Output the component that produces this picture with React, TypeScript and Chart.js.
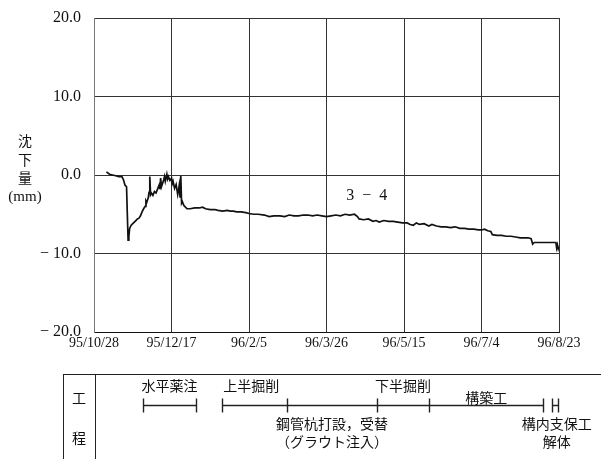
import React, { useEffect, useRef } from "react";
import { Chart, registerables } from "chart.js";

Chart.register(...registerables);

// days since 95/10/28
const days = [
  8, 10, 12, 14, 16, 18, 19, 20, 21, 21.5, 22, 22.5, 23, 24, 25, 26, 27, 28, 29, 30,
  31, 32, 33, 33.5, 34, 35, 35.5, 36, 36.5, 37, 38, 39, 40, 41, 42, 42.5, 43, 43.5, 44, 45,
  45.5, 46, 47, 47.5, 48, 49, 50, 50.5, 51, 52, 53, 54, 54.5, 55, 55.5, 56, 56.5, 57, 58, 59,
  60, 62, 65, 68, 70, 72, 75, 78, 80, 83, 86, 88, 90, 92, 95, 98, 100, 103, 106, 110,
  113, 116, 120, 123, 126, 129, 132, 135, 138, 141, 144, 147, 150, 153, 156, 159, 162, 165, 168, 170,
  171, 174, 177, 180, 182, 184, 187, 190, 193, 196, 199, 202, 204, 206, 208, 210, 213, 216, 218, 221,
  224, 227, 230, 233, 236, 239, 242, 245, 248, 250, 252, 254, 256, 257, 260, 263, 266, 269, 272, 275,
  280, 282, 283, 284, 290, 295, 298, 298.5, 299, 299.5, 300,
];
const settlement = [
  0.4, 0.1, 0.0, -0.1, -0.2, -0.2, -0.6, -1.3, -1.5, -5.0, -8.3, -7.8, -6.8, -6.4, -6.2, -6.0, -5.8, -5.6, -5.5, -5.2,
  -4.7, -4.3, -4.0, -3.3, -3.5, -2.9, -2.2, -0.2, -2.5, -2.3, -2.6, -2.1, -2.3, -1.8, -1.3, -1.8, -0.4, -1.5, -1.2, -0.6,
  -0.2, -0.8, 0.1, -0.5, -0.2, -0.7, -0.4, -1.1, -0.8, -1.7, -1.2, -2.5, -2.0, -1.3, -2.8, -0.1, -3.6, -3.4, -3.9, -4.1,
  -4.3, -4.3, -4.2, -4.2, -4.1, -4.3, -4.4, -4.4, -4.5, -4.6, -4.5, -4.6, -4.6, -4.7, -4.7, -4.8, -4.9, -5.0, -5.0, -5.1,
  -5.3, -5.2, -5.2, -5.3, -5.1, -5.2, -5.2, -5.1, -5.1, -5.2, -5.1, -5.2, -5.3, -5.2, -5.1, -5.2, -5.0, -5.1, -5.0, -5.3,
  -5.6, -5.7, -5.6, -5.9, -5.8, -6.0, -5.8, -5.9, -5.9, -6.0, -6.1, -6.1, -6.3, -6.4, -6.1, -6.3, -6.2, -6.5, -6.3, -6.5,
  -6.6, -6.6, -6.7, -6.6, -6.8, -6.8, -6.9, -6.9, -7.0, -7.0, -6.9, -7.1, -7.2, -7.6, -7.7, -7.7, -7.8, -7.8, -7.9, -8.0,
  -8.0, -8.1, -8.8, -8.6, -8.6, -8.6, -8.6, -9.3, -8.9, -9.4, -9.1,
];

const xTickDays = [0, 50, 100, 150, 200, 250, 300];
const xTickLabels = ["95/10/28", "95/12/17", "96/2/5", "96/3/26", "96/5/15", "96/7/4", "96/8/23"];
const yTickValues = [-20, -10, 0, 10, 20];
const yTitleLines = ["沈", "下", "量", "(mm)"];
const seriesLabel = "3 − 4";
const seriesLabelPos = { x: 176, y: -2.6 };

// process schedule (days since 95/10/28)
const procSegments = [
  { start: 31.6, end: 65.8 },
  { start: 82.6, end: 289.7 },
  { start: 295.5, end: 299.5 },
];
const procTicks = [31.6, 65.8, 82.6, 124.5, 182.6, 216, 289.7, 295.5, 299.5];
const procLabelsTop = [
  { text: "水平薬注", day: 48.7, row: 0 },
  { text: "上半掘削", day: 101.5, row: 0 },
  { text: "下半掘削", day: 199.3, row: 0 },
  { text: "構築工", day: 253, row: 1 },
];
const procLabelsBottom = [
  { text: "鋼管杭打設，受替", day: 153.5, row: 0 },
  { text: "（グラウト注入）", day: 153.5, row: 1 },
  { text: "構内支保工", day: 298.5, row: 0 },
  { text: "解体", day: 298.5, row: 1 },
];
const tableHead = ["工", "程"];

const SERIF = '"Liberation Serif", "DejaVu Serif", serif';
const CJK = '"Noto Sans CJK JP", "Noto Sans CJK SC", sans-serif';

export default function App() {
  const ref = useRef<HTMLCanvasElement>(null);
  useEffect(() => {
    const canvas = ref.current!;
    const overlay = {
      id: "overlay",
      afterDraw(chart: any) {
        const ctx = chart.ctx as CanvasRenderingContext2D;
        const xs = chart.scales.x;
        const ys = chart.scales.y;
        ctx.save();
        ctx.fillStyle = "#111";
        ctx.textAlign = "center";
        ctx.textBaseline = "middle";
        // y title
        const yT = [141, 160, 178, 197];
        yTitleLines.forEach((t, i) => {
          ctx.font = i === 3 ? `15px ${SERIF}` : `14px ${CJK}`;
          ctx.fillText(t, 25, yT[i]);
        });
        // series label
        ctx.font = `16px ${SERIF}`;
        (ctx as any).letterSpacing = "2px";
        ctx.fillText(seriesLabel, xs.getPixelForValue(seriesLabelPos.x) + 1, ys.getPixelForValue(seriesLabelPos.y));
        (ctx as any).letterSpacing = "0px";

        // process table
        const top = 374;
        ctx.strokeStyle = "#222";
        ctx.lineWidth = 1;
        ctx.beginPath();
        ctx.moveTo(63, top + 0.5);
        ctx.lineTo(601, top + 0.5);
        ctx.moveTo(63.5, top);
        ctx.lineTo(63.5, 459);
        ctx.moveTo(95.5, top);
        ctx.lineTo(95.5, 459);
        ctx.stroke();
        ctx.font = `14px ${CJK}`;
        ctx.fillText(tableHead[0], 79, 398);
        ctx.fillText(tableHead[1], 79, 438);

        const barY = 405.5;
        ctx.lineWidth = 1.4;
        ctx.beginPath();
        procSegments.forEach((s) => {
          ctx.moveTo(xs.getPixelForValue(s.start), barY);
          ctx.lineTo(xs.getPixelForValue(s.end), barY);
        });
        procTicks.forEach((d) => {
          const px = Math.round(xs.getPixelForValue(d)) + 0.5;
          ctx.moveTo(px, barY - 7);
          ctx.lineTo(px, barY + 7);
        });
        ctx.stroke();

        ctx.font = `14px ${CJK}`;
        const topRows = [386, 398];
        procLabelsTop.forEach((l) => {
          ctx.fillText(l.text, xs.getPixelForValue(l.day), topRows[l.row]);
        });
        const botRows = [424, 442];
        procLabelsBottom.forEach((l) => {
          ctx.fillText(l.text, xs.getPixelForValue(l.day), botRows[l.row]);
        });
        ctx.restore();
      },
    };
    const chart = new Chart(canvas, {
      type: "line",
      data: {
        datasets: [
          {
            data: days.map((d, i) => ({ x: d, y: settlement[i] })),
            borderColor: "#111",
            borderWidth: 1.7,
            pointRadius: 0,
            tension: 0,
            fill: false,
          },
        ],
      },
      options: {
        animation: false,
        responsive: false,
        maintainAspectRatio: false,
        layout: { padding: { left: 0, right: 42, top: 18, bottom: 0 } },
        plugins: { legend: { display: false }, tooltip: { enabled: false } },
        scales: {
          x: {
            type: "linear",
            min: 0,
            max: 300,
            afterBuildTicks: (s: any) => {
              s.ticks = xTickDays.map((v) => ({ value: v }));
            },
            ticks: {
              callback: (v: any) => xTickLabels[xTickDays.indexOf(Number(v))] ?? "",
              font: { family: SERIF, size: 14 },
              color: "#111",
              padding: 3,
              maxRotation: 0,
              autoSkip: false,
            },
            grid: { color: "#333", drawTicks: false, lineWidth: 1 },
            border: { color: "#111", width: 1 },
            afterFit: (s: any) => {
              s.height = 127;
              s.paddingLeft = 0;
              s.paddingRight = 0;
            },
          },
          y: {
            type: "linear",
            min: -20,
            max: 20,
            afterBuildTicks: (s: any) => {
              s.ticks = yTickValues.map((v) => ({ value: v }));
            },
            ticks: {
              callback: (v: any) => {
                const n = Number(v);
                return n < 0 ? "− " + Math.abs(n).toFixed(1) : n.toFixed(1);
              },
              font: { family: SERIF, size: 16 },
              color: "#111",
              padding: 13,
            },
            grid: { color: "#333", drawTicks: false, lineWidth: 1 },
            border: { color: "#777", width: 1 },
            afterFit: (s: any) => {
              s.width = 94;
              s.paddingTop = 0;
              s.paddingBottom = 0;
            },
          },
        },
      },
      plugins: [overlay],
    });
    return () => chart.destroy();
  }, []);
  return (
    <div style={{ position: "absolute", left: 0, top: 0, width: 601, height: 459, background: "#fff" }}>
      <canvas ref={ref} width={601} height={459} style={{ width: 601, height: 459, display: "block" }} />
    </div>
  );
}
